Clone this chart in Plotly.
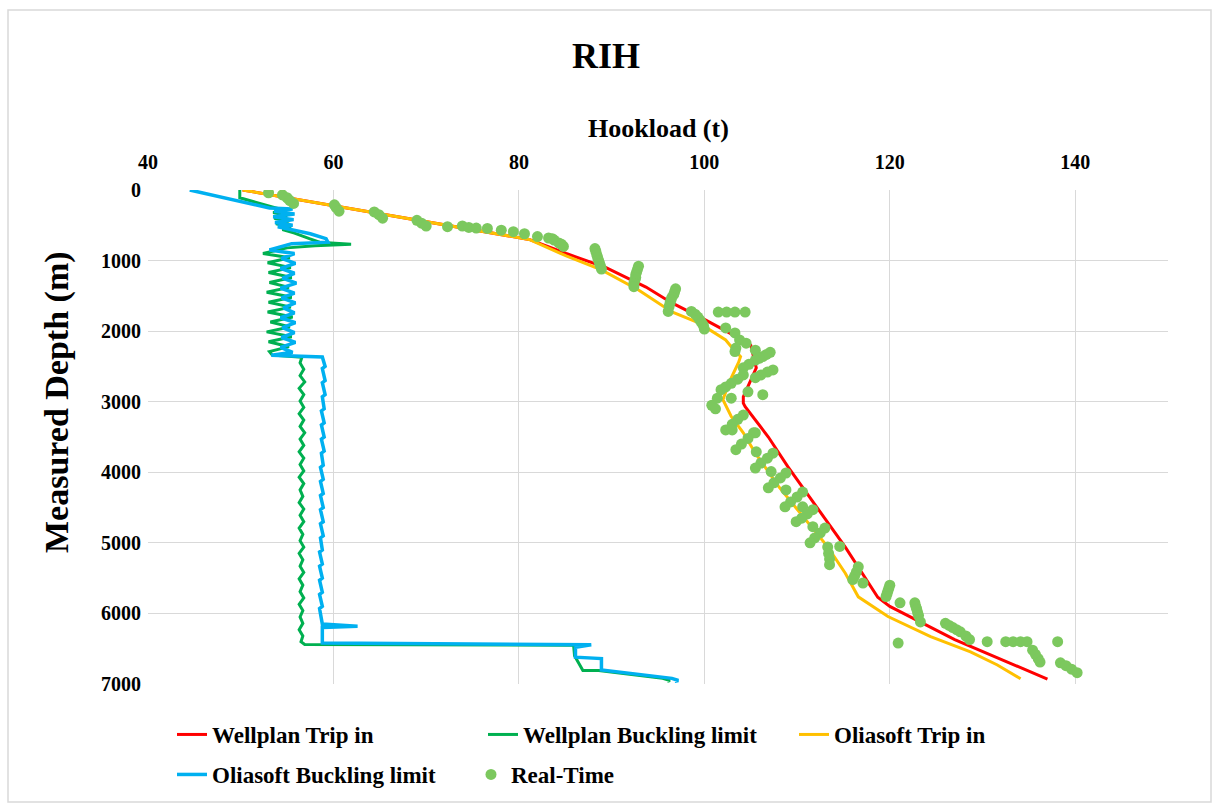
import plotly.graph_objects as go

# ---------------- data ----------------
wp_trip_depth = [0, 700, 900, 1100, 1375, 1600, 1840, 1960, 2200, 2520, 2930, 3020, 3070, 3500, 3920,
                 5060, 5770, 5900, 6370, 6930]
wp_trip_load = [50.2, 81.1, 85.1, 89.4, 93.7, 96.5, 100.1, 101.8, 105.0, 105.6, 104.2, 104.2, 104.4, 106.9,
                109.0, 115.2, 118.7, 120.0, 127.0, 137.0]

wp_buck_depth = [0, 110, 240, 280, 320, 360, 400, 440, 480, 520, 560, 610, 690, 740, 770, 790, 820, 900,
                 960, 1030, 1100, 1170, 1240, 1310, 1380, 1450, 1520, 1590, 1660, 1730, 1800, 1870, 1940,
                 2010, 2080, 2150, 2220, 2290, 2340, 2370,
                 2450, 2540, 2630, 2720, 2810, 2900, 2990, 3080, 3170, 3260, 3350, 3440, 3530, 3620, 3710,
                 3800, 3890, 3980, 4070, 4160, 4250, 4340, 4430, 4520, 4610, 4700, 4790, 4880, 4970, 5060,
                 5150, 5240, 5330, 5420, 5510, 5600, 5690, 5780, 5870, 5960, 6050, 6140, 6230, 6320, 6400,
                 6440, 6450, 6600, 6810, 6810, 6920, 6950, 6960]
wp_buck_load = [49.9, 49.9, 53.4, 54.5, 53.5, 55.0, 53.6, 55.2, 53.8, 55.4, 54.5, 55.8, 57.4, 58.5, 61.9,
                58.0, 55.0, 52.4,
                55.3, 52.9, 55.4, 53.0, 55.5, 53.1, 55.2, 52.8, 55.5, 53.0, 55.4, 52.9, 55.6, 53.2, 55.3,
                52.8, 55.5, 53.0, 55.2, 53.1, 53.4, 56.6,
                56.4, 56.8, 56.4, 56.9, 56.3, 56.8, 56.4, 56.8, 56.3, 56.8, 56.4, 56.9, 56.4, 56.8, 56.3,
                56.8, 56.4, 56.8, 56.3, 56.8, 56.4, 56.7, 56.3, 56.8, 56.4, 56.8, 56.3, 56.7, 56.4, 56.8,
                56.3, 56.7, 56.4, 56.8, 56.3, 56.7, 56.4, 56.8, 56.3, 56.7, 56.4, 56.7, 56.3, 56.7, 56.5,
                56.9, 85.9, 86.0, 86.9, 88.6, 95.5, 96.3, 96.0]

os_trip_depth = [0, 700, 935, 1133, 1416, 1728, 1884, 2125, 2220, 2360, 2440, 2690, 2970, 3210, 3440,
                 3730, 4200, 4674, 5057, 5430, 5765, 6044, 6330, 6544, 6730, 6926]
os_trip_load = [50.2, 81.1, 85.1, 88.9, 92.9, 96.5, 99.4, 102.3, 102.9, 103.9, 103.7, 102.8, 102.0, 102.9,
                104.2, 105.5, 108.0, 110.9, 113.3, 115.2, 116.6, 119.8, 124.4, 128.7, 131.6, 134.1]

os_buck_depth = [0, 255, 270, 300, 340, 380, 420, 460, 500, 520, 620, 690, 740, 760, 850,
                 900, 970, 1040, 1110, 1180, 1250, 1320, 1390, 1460, 1530, 1600, 1670, 1740, 1810, 1880,
                 1950, 2020, 2090, 2160, 2230, 2300, 2340, 2365,
                 2500, 2530, 2700, 2730, 2900, 2930, 3100, 3130, 3300, 3330, 3500, 3530, 3700, 3730,
                 3900, 3930, 4100, 4130, 4300, 4330, 4500, 4530, 4700, 4730, 4900, 4930, 5100, 5130,
                 5300, 5330, 5500, 5530, 5700, 5730, 5900, 5930, 6150, 6180, 6200, 6420,
                 6445, 6480, 6620, 6640, 6800, 6920, 6950, 6960]
os_buck_load = [44.5, 53.1, 55.6, 53.6, 55.8, 53.5, 55.7, 53.7, 55.6, 54.0, 57.5, 59.2, 59.4, 55.5, 53.1,
                55.8, 54.4, 55.9, 54.3, 55.8, 54.5, 56.0, 54.3, 55.8, 54.4, 55.9, 54.6, 55.8, 54.3, 55.9,
                54.5, 55.8, 54.4, 55.9, 54.3, 55.6, 53.3, 58.8,
                59.1, 58.8, 59.1, 58.8, 59.1, 58.8, 59.0, 58.7, 59.0, 58.7, 59.0, 58.7, 59.0, 58.7,
                58.9, 58.6, 58.9, 58.6, 58.9, 58.6, 58.9, 58.6, 58.9, 58.6, 58.9, 58.6, 58.8, 58.5,
                58.8, 58.5, 58.8, 58.5, 58.8, 58.5, 58.8, 58.5, 58.8, 62.6, 58.8, 58.8,
                87.8, 86.1, 86.1, 88.9, 88.9, 96.5, 97.2, 96.8]

rt_load = [53.0, 54.5, 55.0, 55.3, 55.7, 60.1, 60.3, 60.6, 64.4, 64.9, 65.3, 69.0, 69.5, 70.0,
           72.3, 73.9, 74.6, 75.4, 76.6, 78.1, 79.4, 80.6, 82.0, 83.2, 83.8, 84.3, 84.8, 83.6, 84.6,
           88.2, 88.3, 88.4, 88.5, 88.6, 88.7, 88.8, 88.9, 92.9, 92.8, 92.7, 92.6, 92.6, 92.5, 92.4, 92.4,
           96.9, 96.8, 96.7, 96.5, 96.4, 96.3, 96.2, 96.1,
           98.6, 99.0, 99.3, 99.5, 99.7, 99.9, 100.0, 101.5, 102.4, 103.3, 104.4,
           102.3, 103.3, 103.8, 103.4, 103.3, 104.5, 105.5,
           107.1, 106.7, 106.3, 105.9, 105.5, 104.8, 104.2, 107.4, 106.8, 106.1, 105.5,
           104.2, 103.6, 102.9, 102.3, 101.8, 104.7, 106.3,
           101.4, 100.8, 101.2, 102.9, 104.2, 103.6, 103.0, 102.3, 103.0, 105.5,
           105.3, 104.7, 104.0, 103.4, 105.6, 107.4, 106.8, 106.1, 105.5, 107.2,
           108.8, 108.2, 107.5, 106.9, 108.8, 110.6, 110.0, 109.3, 108.7, 110.6,
           111.7, 111.1, 110.5, 109.9, 111.7, 113.0, 112.5, 111.9, 111.4, 114.6,
           113.3, 113.4, 113.5, 113.5, 116.6, 116.4, 116.2, 116.0, 117.1,
           120.0, 119.9, 119.8, 119.7, 119.6, 121.1, 122.7, 122.8, 122.9, 123.0, 123.1, 123.3,
           126.0, 126.4, 126.8, 127.2, 127.6, 128.2, 128.6, 120.9, 130.5, 132.5, 133.3, 134.1, 134.8,
           135.4, 135.7, 136.0, 136.2, 138.1, 138.4, 139.0, 139.6, 140.2]
rt_depth = [40, 70, 110, 150, 190, 210, 250, 300, 310, 350, 400, 430, 470, 510,
            520, 510, 530, 540, 545, 570, 590, 620, 660, 680, 710, 750, 800, 690, 770,
            830, 870, 920, 960, 1000, 1040, 1080, 1120, 1080, 1120, 1160, 1200, 1240, 1280, 1320, 1370,
            1400, 1440, 1480, 1520, 1560, 1600, 1650, 1720,
            1720, 1760, 1800, 1840, 1880, 1920, 1970, 1730, 1730, 1730, 1730,
            1955, 2025, 2125, 2240, 2290, 2170, 2270,
            2300, 2330, 2360, 2385, 2410, 2470, 2520, 2550, 2580, 2620, 2660,
            2620, 2680, 2740, 2790, 2830, 2860, 2900,
            2950, 3050, 3100, 2950, 3190, 3250, 3320, 3400, 3400, 3440,
            3440, 3520, 3600, 3680, 3710, 3730, 3800, 3870, 3940, 3990,
            4010, 4080, 4150, 4220, 4250, 4280, 4350, 4420, 4490, 4490,
            4530, 4590, 4650, 4700, 4770, 4790, 4860, 4930, 5000, 5050,
            5060, 5150, 5230, 5310, 5340, 5410, 5470, 5520, 5570,
            5600, 5640, 5680, 5720, 5760, 5850, 5850, 5900, 5940, 5990, 6030, 6120,
            6140, 6170, 6200, 6230, 6260, 6320, 6370, 6420, 6400, 6400, 6400, 6400, 6400,
            6520, 6580, 6640, 6690, 6400, 6700, 6740, 6790, 6840]

x_tick_vals = [40, 60, 80, 100, 120, 140]
y_tick_vals = [0, 1000, 2000, 3000, 4000, 5000, 6000, 7000]

# ---------------- figure ----------------
FONT = "Liberation Serif"


def f(size):
    return dict(family=FONT, size=size, color="black", weight="bold")


fig = go.Figure()
fig.add_trace(go.Scatter(x=wp_trip_load, y=wp_trip_depth, mode="lines", name="Wellplan Trip in",
                         line=dict(color="#FF0000", width=3)))
fig.add_trace(go.Scatter(x=wp_buck_load, y=wp_buck_depth, mode="lines", name="Wellplan Buckling limit",
                         line=dict(color="#00B050", width=3)))
fig.add_trace(go.Scatter(x=os_trip_load, y=os_trip_depth, mode="lines", name="Oliasoft Trip in",
                         line=dict(color="#FFC000", width=3)))
fig.add_trace(go.Scatter(x=os_buck_load, y=os_buck_depth, mode="lines", name="Oliasoft Buckling limit",
                         line=dict(color="#00B0F0", width=3.5), legend="legend2"))
fig.add_trace(go.Scatter(x=rt_load, y=rt_depth, mode="markers", name="Real-Time",
                         marker=dict(color="#7CC85E", size=11), legend="legend2"))

W, H = 1212, 803
L, R, T, B = 148, 1168, 190, 684


def px(xp):
    return (xp - L) / (R - L)


def py(yp):
    return (B - yp) / (B - T)


fig.update_layout(
    width=W, height=H,
    margin=dict(l=L, r=W - R, t=T, b=H - B, autoexpand=False),
    paper_bgcolor="white", plot_bgcolor="white",
    font=f(20),
    title=dict(text="RIH", x=0.5, xanchor="center", y=1 - 55 / H, yanchor="middle", font=f(36)),
    xaxis=dict(side="top", range=[40, 150], tickvals=x_tick_vals, showgrid=True, gridcolor="#D9D9D9",
               gridwidth=1, zeroline=False, showline=False, ticks="", ticklabelstandoff=16,
               tickfont=f(20)),
    yaxis=dict(range=[7000, 0], tickvals=y_tick_vals, showgrid=True, gridcolor="#D9D9D9",
               gridwidth=1, zeroline=False, showline=False, ticks="", ticklabelstandoff=6,
               tickfont=f(20)),
    legend=dict(orientation="h", x=px(172), y=py(713), xanchor="left", yanchor="top",
                entrywidth=266, entrywidthmode="pixels", font=f(23), bgcolor="rgba(0,0,0,0)"),
    legend2=dict(orientation="h", x=px(172), y=py(753), xanchor="left", yanchor="top",
                 entrywidth=254, entrywidthmode="pixels", font=f(23), bgcolor="rgba(0,0,0,0)"),
    showlegend=True,
)

# axis titles
fig.add_annotation(text="Hookload (t)", xref="paper", yref="paper", x=px(658),
                   y=py(128), xanchor="center", yanchor="middle", showarrow=False, font=f(26))
fig.add_annotation(text="Measured Depth (m)", xref="paper", yref="paper", x=px(57), y=py(402),
                   xanchor="center", yanchor="middle", textangle=-90, showarrow=False, font=f(34))

# outer chart border
fig.add_shape(type="rect", xref="paper", yref="paper", x0=px(8), x1=px(1211), y0=py(802), y1=py(10),
              line=dict(color="#D9D9D9", width=1.5), fillcolor="rgba(0,0,0,0)", layer="below")

fig.write_html("out.html")
